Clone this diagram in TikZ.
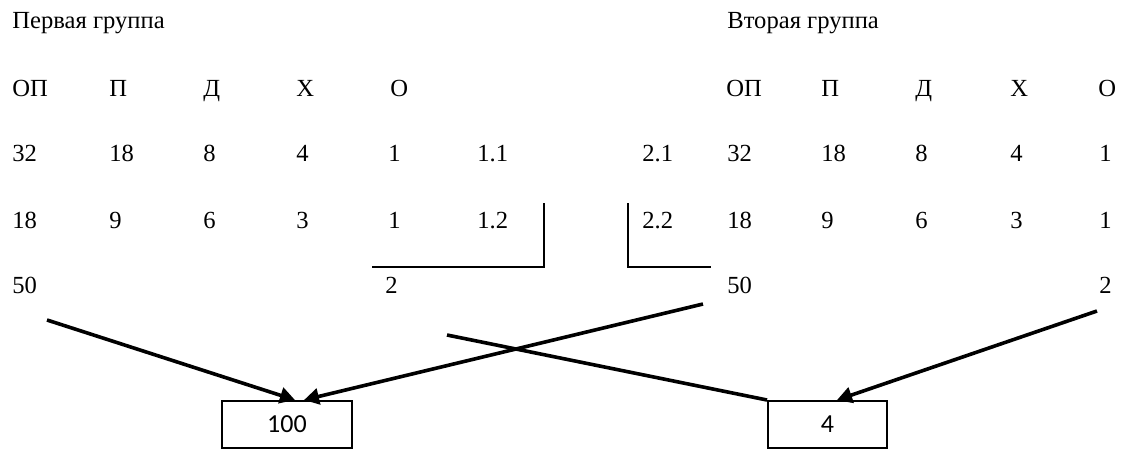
\documentclass[tikz,border=0pt]{standalone}
\usepackage{fontspec}
\setmainfont{Liberation Serif}
\newfontfamily\boxfont{Carlito}
\usetikzlibrary{arrows.meta,calc}

\tikzset{
    cell/.style={anchor=base west, inner sep=0pt, font=\fontsize{12.3}{14}\selectfont},
    sumbox/.style={draw, line width=1pt, inner sep=0pt, minimum height=23.5pt, font=\boxfont\fontsize{13}{15}\selectfont},
    arr/.style={line width=1.8pt, -{Triangle[length=7.5pt,width=8pt]}},
    bracket/.style={line width=0.9pt}
}

\begin{document}
\begin{tikzpicture}[x=0.5pt, y=-0.5pt]
            \useasboundingbox (0,0) rectangle (1121,450);

            \node[cell] (g1) at (12,28) {Первая группа};
            \node[cell] (g2) at (727,28) {Вторая группа};

            \node[cell] (lop) at (12,96) {ОП};
            \node[cell] (lp) at (109,96) {П};
            \node[cell] (ld) at (203,96) {Д};
            \node[cell] (lx) at (296,96) {Х};
            \node[cell] (lo) at (390,96) {О};
            \node[cell] (rop) at (726,96) {ОП};
            \node[cell] (rp) at (821,96) {П};
            \node[cell] (rd) at (915,96) {Д};
            \node[cell] (rx) at (1010,96) {Х};
            \node[cell] (ro) at (1098,96) {О};

            \node[cell] (la1) at (12,161) {32};
            \node[cell] (la2) at (109,161) {18};
            \node[cell] (la3) at (203,161) {8};
            \node[cell] (la4) at (296,161) {4};
            \node[cell] (la5) at (388,161) {1};
            \node[cell] (n11) at (477,161) {1.1};
            \node[cell] (n21) at (642,161) {2.1};
            \node[cell] (ra1) at (727,161) {32};
            \node[cell] (ra2) at (821,161) {18};
            \node[cell] (ra3) at (915,161) {8};
            \node[cell] (ra4) at (1010,161) {4};
            \node[cell] (ra5) at (1099,161) {1};

            \node[cell] (lb1) at (12,228) {18};
            \node[cell] (lb2) at (109,228) {9};
            \node[cell] (lb3) at (203,228) {6};
            \node[cell] (lb4) at (296,228) {3};
            \node[cell] (lb5) at (388,228) {1};
            \node[cell] (n12) at (477,228) {1.2};
            \node[cell] (n22) at (642,228) {2.2};
            \node[cell] (rb1) at (727,228) {18};
            \node[cell] (rb2) at (821,228) {9};
            \node[cell] (rb3) at (915,228) {6};
            \node[cell] (rb4) at (1010,228) {3};
            \node[cell] (rb5) at (1099,228) {1};

            \node[cell] (lsum) at (12,293) {50};
            \node[cell] (lo2) at (385,293) {2};
            \node[cell] (rsum) at (727,293) {50};
            \node[cell] (ro2) at (1099,293) {2};

            \draw[bracket] (372,267) -- (544,267) -- (544,203);
            \draw[bracket] (628,203) -- (628,267) -- (711,267);

            \node[sumbox, minimum width=65pt] (b100) at (287,424.5) {100};
            \node[sumbox, minimum width=59.5pt] (b4) at (827.5,424.5) {4};

            \coordinate (s1) at (47,320);
            \coordinate (s2) at (703,304);
            \coordinate (s3) at (447,335);
            \coordinate (s4) at (1097,311);

            \draw[arr] (s1) -- ($(b100.north)+(8,0)$);
            \draw[arr] (s2) -- ($(b100.north)+(17,0)$);
            \draw[line width=1.8pt] (s3) -- (b4.north west);
            \draw[arr] (s4) -- ($(b4.north)+(9.5,0)$);
        \end{tikzpicture}
\end{document}
